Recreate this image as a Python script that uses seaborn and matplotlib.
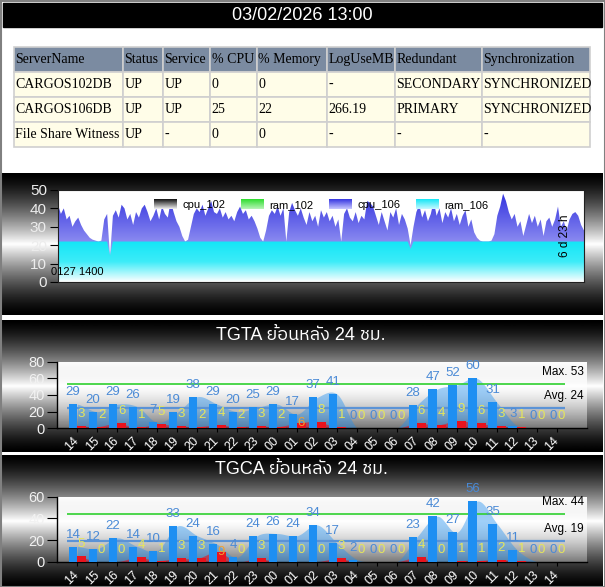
import numpy as np
import pandas as pd
import seaborn as sns
import matplotlib
matplotlib.use('Agg')
import matplotlib.pyplot as plt
from matplotlib.patches import Rectangle, Patch
from matplotlib.colors import LinearSegmentedColormap
from matplotlib.legend_handler import HandlerBase
from matplotlib import font_manager
from matplotlib.ft2font import FT2Font

# ---- header + status table ----
stamp = '03/02/2026 13:00'
columns = ['ServerName', 'Status', 'Service', '% CPU', '% Memory', 'LogUseMB', 'Redundant', 'Synchronization']
server_names = ['CARGOS102DB', 'CARGOS106DB', 'File Share Witness']
status = ['UP', 'UP', 'UP']
service = ['UP', 'UP', '-']
cpu_pct = ['0', '25', '0']
mem_pct = ['0', '22', '0']
log_mb = ['-', '266.19', '-']
redundant = ['SECONDARY', 'PRIMARY', '-']
sync = ['SYNCHRONIZED', 'SYNCHRONIZED', '-']

# ---- 7 day cpu / ram trend of CARGOS106DB ----
cpu_106 = [42, 37, 40, 34, 36, 30, 33, 35, 31, 28, 26,
           24, 23, 22.5, 22, 22.5,
           34, 37,
           14,
           36, 39, 35, 42, 40, 34, 37, 31, 38, 35, 40,
           42, 38, 33, 36, 40, 34, 41, 37, 35, 44, 38,
           33, 30, 25, 22, 23,
           30, 37, 40, 38, 42, 36, 40, 44, 38,
           37, 40, 35, 38, 34, 36, 33, 38, 41, 37, 39, 34, 36, 33,
           29, 24, 22, 28, 36, 39,
           37, 41, 36, 40, 22, 38, 43,
           39, 36, 40, 35, 31, 38, 33, 36, 30, 39, 35, 38,
           33, 36, 30, 34, 22, 37, 40, 35,
           33, 38, 32, 36, 34, 44, 43, 41, 36, 31, 38, 33, 28, 38,
           35, 40, 31, 37, 34, 29, 20, 30,
           38, 42, 35, 39, 33, 37, 44, 36, 40, 32, 38,
           35, 40, 33, 37, 31, 36, 39, 30, 34, 27, 24,
           22.5, 22, 22, 22, 22.5, 26,
           36, 41, 48, 44, 38, 34, 37, 30, 33, 25, 31,
           37, 32, 36, 30, 34, 25, 33, 35, 30, 34, 41,
           30, 33, 28, 34, 37, 38, 36, 31, 28]
ram_t = [0, 17, 18, 19, 121, 122, 123, 182]
ram_106 = [22, 22, 14.5, 22, 22, 18, 22, 22]
legend_names = ['cpu_102', 'ram_102', 'cpu_106', 'ram_106']
start_label = '0127 1400'
span_label = '6 d 23 h'

# ---- last 24 h per hour ----
hours = ['14', '15', '16', '17', '18', '19', '20', '21', '22', '23', '00', '01', '02',
         '03', '04', '05', '06', '07', '08', '09', '10', '11', '12', '13', '14']
tgta_cnt = [29, 20, 29, 26, 7, 19, 38, 29, 20, 25, 29, 17, 37, 41, 0, 0, 0, 28, 47, 52, 60, 31, 3, 0, 0]
tgta_err = [3, 2, 6, 1, 5, 3, 2, 4, 2, 3, 2, 6, 8, 1, 0, 0, 0, 6, 4, 9, 6, 3, 1, 0, 0]
tgta_max, tgta_avg = 53, 24
tgca_cnt = [14, 12, 22, 14, 10, 33, 24, 16, 4, 24, 26, 24, 34, 17, 2, 0, 0, 23, 42, 27, 56, 35, 11, 0, 0]
tgca_err = [5, 0, 0, 4, 1, 3, 3, 9, 0, 3, 0, 0, 0, 3, 0, 0, 0, 4, 0, 1, 1, 2, 1, 0, 0]
tgca_max, tgca_avg = 44, 19

BLUE = '#1e8ff2'
RED = '#e8141e'
LBL_BLUE = '#4a8ad6'
LBL_YEL = '#e6e65a'
AVG = '#5b93d6'
GREEN = '#2fd02f'
SANS = 'Liberation Sans'


def thai_family():
    found = []
    for f in font_manager.fontManager.ttflist:
        try:
            if 0x0E22 in FT2Font(f.fname).get_charmap():
                found.append(f.name)
        except Exception:
            continue
    for n in found:
        if 'Thai' in n:
            return n
    return found[0] if found else None


thai = thai_family()
title_family = [SANS, thai] if thai else [SANS, 'DejaVu Sans']

W, H = 605, 587
fig = plt.figure(figsize=(W / 100, H / 100), dpi=100)
fig.patch.set_facecolor('white')


def add_ax(x0, y0, x1, y1, **kw):
    return fig.add_axes([x0 / W, 1 - y1 / H, (x1 - x0) / W, (y1 - y0) / H], **kw)


# background: header bar and the three black-white-black panels
bg = add_ax(0, 0, W, H, zorder=-10)
bg.axis('off')
bg.add_patch(Rectangle((3, 3), W - 6, 24, color='black'))
bg.text(302, 15, stamp, color='white', fontsize=13, ha='center', va='center', family=SANS)
tt = np.linspace(0, 1, 300)
shade = (1 - np.abs(2 * tt - 1)) ** 1.4
for y0, y1 in [(173, 315), (320, 452), (455, 587)]:
    bg.imshow(shade[:, None], cmap='gray', vmin=0, vmax=1, extent=[2, W - 2, y1, y0],
              aspect='auto', interpolation='bilinear')
bg.add_patch(Rectangle((0.5, 0.5), W - 1, H - 1, fill=False, edgecolor='#808080', lw=1.5))
bg.set_xlim(0, W)
bg.set_ylim(H, 0)

# status table
col_px = [109.2, 40.3, 47, 47, 70, 67.6, 87.4, 108]
tab_ax = add_ax(13.5, 47, 590, 147)
tab_ax.axis('off')
cells = [list(r) for r in zip(server_names, status, service, cpu_pct, mem_pct, log_mb, redundant, sync)]
tbl = tab_ax.table(cellText=cells, colLabels=columns, colWidths=[c / sum(col_px) for c in col_px],
                   cellLoc='left', colLoc='left', bbox=[0, 0, 1, 1])
tbl.auto_set_font_size(False)
for (r, c), cell in tbl.get_celld().items():
    cell.set_facecolor('#7b8ba1' if r == 0 else '#fffde8')
    cell.set_edgecolor('#cfcfcf')
    cell.set_linewidth(1.2)
    cell.PAD = 1.5 / col_px[c]
    t = cell.get_text()
    t.set_fontfamily('Liberation Serif')
    t.set_fontsize(10)
    t.set_color('black')


# ---- cpu / ram chart ----
def gradient_area(ax, x, y, colors, z):
    poly = ax.fill_between(x, 0, y, facecolor='none', edgecolor='none')
    cmap = LinearSegmentedColormap.from_list('g', colors)
    grad = np.linspace(0, 1, 256)[:, None]
    im = ax.imshow(grad, cmap=cmap, extent=[min(x), max(x), 0, max(y)], origin='lower',
                   aspect='auto', zorder=z, interpolation='bilinear')
    im.set_clip_path(poly.get_paths()[0], ax.transData)


class GradHandler(HandlerBase):
    def __init__(self, top, bottom):
        super().__init__()
        self.top, self.bottom = top, bottom

    def create_artists(self, legend, orig_handle, xdescent, ydescent, width, height, fontsize, trans):
        cmap = LinearSegmentedColormap.from_list('h', [self.bottom, self.top])
        n = 10
        out = []
        for i in range(n):
            out.append(Rectangle((-xdescent, -ydescent + height * i / n), width, height / n * 1.05,
                                 facecolor=cmap((i + 0.5) / n), edgecolor='none', transform=trans))
        return out


ax1 = add_ax(58, 190, 584, 282)
ax1.set_facecolor('white')
xi = np.arange(len(cpu_106))
gradient_area(ax1, xi, cpu_106, ['#d2d2ff', '#3333df'], 1)
gradient_area(ax1, ram_t, ram_106, ['#ffffff', '#3cecf8', '#14e6f6'], 2)
ax1.set_xlim(0, len(cpu_106) - 1)
ax1.set_ylim(0, 50)
ax1.set_yticks(range(0, 51, 10))
ax1.set_xticks([])
ax1.tick_params(axis='y', color='black', labelcolor='#ececec', length=6, labelsize=11, pad=2)
for lbl in ax1.get_yticklabels():
    lbl.set_family(SANS)
for s in ax1.spines.values():
    s.set_color('#202020')
    s.set_linewidth(0.8)
swatch = [('#101010', '#f4f4f4'), ('#2edc2e', '#b8f4b8'), ('#3535e0', '#c8c8ff'), ('#14e6f6', '#c8f8ff')]
proxies = [Patch(label=n) for n in legend_names]
ax1.legend(handles=proxies, handler_map={p: GradHandler(*c) for p, c in zip(proxies, swatch)},
           loc='upper center', ncol=4, frameon=False, prop={'family': SANS, 'size': 8},
           handlelength=2.1, handleheight=0.95, handletextpad=0.45, columnspacing=1.4,
           borderaxespad=0.45)
ax1.text(-0.013, 0.11, start_label, transform=ax1.transAxes, fontsize=8, va='center', ha='left',
         family=SANS, zorder=5, clip_on=False)
ax1.text(0.963, 0.5, span_label, transform=ax1.transAxes, fontsize=8.5, va='center', ha='center',
         rotation=90, family=SANS, zorder=5)


# ---- hourly bar panels ----
def smooth(vals, steps=12):
    v = np.asarray(vals, float)
    p = np.concatenate([[v[0]], v, [v[-1]]])
    xs, ys = [], []
    t = np.linspace(0, 1, steps, endpoint=False)
    for i in range(len(v) - 1):
        p0, p1, p2, p3 = p[i], p[i + 1], p[i + 2], p[i + 3]
        ys.append(0.5 * (2 * p1 + (p2 - p0) * t + (2 * p0 - 5 * p1 + 4 * p2 - p3) * t ** 2
                         + (3 * p1 - p0 - 3 * p2 + p3) * t ** 3))
        xs.append(i + t)
    xs.append([len(v) - 1])
    ys.append([v[-1]])
    return np.concatenate(xs), np.clip(np.concatenate(ys), 0, None)


def bar_panel(ax, title, title_y, cnt, err, mx, avg, ymax, px_per_unit):
    ax.set_facecolor('none')
    veil = np.ones((256, 1, 4))
    veil[:, 0, 3] = np.linspace(1.0, 0.3, 256)
    ax.imshow(veil, extent=[0, 1, 0, 1], transform=ax.transAxes, aspect='auto', zorder=0)

    xs, ys = smooth(cnt)
    ax.fill_between(xs, 0, ys, color=BLUE, alpha=0.42, lw=0, zorder=1)
    xs, ys = smooth(err)
    ax.fill_between(xs, 0, ys, color=RED, alpha=0.6, lw=0, zorder=1.2)
    ax.hlines(avg, -0.5, 24.4, color=AVG, lw=1.6, zorder=2)
    ax.hlines(mx, -0.5, 24.4, color=GREEN, lw=1.2, zorder=2)

    df = pd.DataFrame({'pos': list(range(len(cnt))) * 2,
                       'val': list(cnt) + list(err),
                       'kind': ['cnt'] * len(cnt) + ['err'] * len(err)})
    sns.barplot(data=df, x='pos', y='val', hue='kind', hue_order=['cnt', 'err'],
                palette={'cnt': BLUE, 'err': RED}, width=0.86, saturation=1, errorbar=None,
                legend=False, linewidth=0, ax=ax, zorder=3)

    for i, (v, e) in enumerate(zip(cnt, err)):
        ax.annotate(str(v), xy=(i - 0.215, v), xytext=(0, 12), textcoords='offset pixels',
                    ha='center', va='center', color=LBL_BLUE, fontsize=9.5, family=SANS, zorder=5)
        # the error label drops onto its bar when it would sit on the count label
        crowded = len(str(v)) + len(str(e)) > 2 and (v - e) * px_per_unit < 9.5
        ax.annotate(str(e), xy=(i + 0.215, e), xytext=(0, 0 if crowded else 12),
                    textcoords='offset pixels', ha='center', va='center',
                    color='#f2a030' if crowded else LBL_YEL, fontsize=9.5, family=SANS, zorder=5)
    for val, name in [(mx, 'Max.'), (avg, 'Avg.')]:
        ax.annotate(f'{name} {val}', xy=(1, val), xycoords=('axes fraction', 'data'),
                    xytext=(-3, 12), textcoords='offset pixels', ha='right', va='center',
                    color='black', fontsize=8.5, family=SANS, zorder=5)

    ax.set_xlim(-1, 25.5)
    ax.set_ylim(0, ymax)
    ax.set_yticks(range(0, ymax + 1, 20))
    ax.set_xticks(range(len(hours)))
    ax.set_xticklabels(hours, rotation=45, ha='right', va='center', rotation_mode='anchor',
                       color='white', fontsize=9, family=SANS)
    ax.set_xlabel('')
    ax.set_ylabel('')
    ax.tick_params(axis='y', color='black', labelcolor='#f2f2f2', length=7, labelsize=10.5, pad=2)
    ax.tick_params(axis='x', color='black', length=3, pad=5)
    for lbl in ax.get_yticklabels():
        lbl.set_family(SANS)
    for side in ['top', 'right']:
        ax.spines[side].set_visible(False)
    for side in ['left', 'bottom']:
        ax.spines[side].set_color('black')
        ax.spines[side].set_linewidth(1)
    fig.text(301 / W, 1 - title_y / H, title, color='white', fontsize=13, ha='center',
             va='center', family=title_family)


ax2 = add_ax(57.3, 361.7, 587, 428.3)
bar_panel(ax2, 'TGTA ย้อนหลัง 24 ชม.', 335, tgta_cnt, tgta_err, tgta_max, tgta_avg, 80, 66.6 / 80)
ax3 = add_ax(57.3, 496.7, 587, 561.7)
bar_panel(ax3, 'TGCA ย้อนหลัง 24 ชม.', 470, tgca_cnt, tgca_err, tgca_max, tgca_avg, 60, 65.0 / 60)

fig.savefig('out.png', dpi=100)
